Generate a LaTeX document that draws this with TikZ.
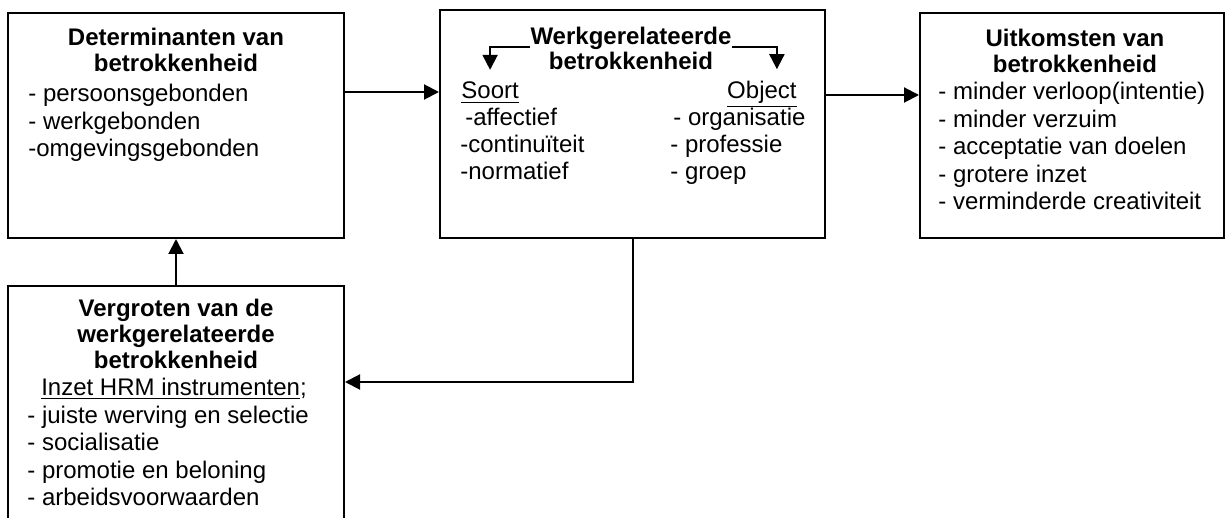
\documentclass[tikz,border=0pt]{standalone}
\usepackage{fontspec}
\setmainfont{Liberation Sans}
\usetikzlibrary{arrows.meta,positioning,calc}

\begin{document}
\begin{tikzpicture}[
    x={(0.5pt,0pt)}, y={(0pt,-0.5pt)},
    box/.style={draw, line width=1pt, inner sep=0pt},
    ttl/.style={font=\fontsize{12}{13}\selectfont\bfseries, align=center, inner sep=0pt, anchor=base},
    lst/.style={font=\fontsize{12}{13.75}\selectfont, align=left, inner sep=0pt, anchor=base west},
    arr/.style={-{Triangle[length=7.5pt, width=7.5pt]}, line width=1pt}
]
\fill[white] (0,0) rectangle (1226,518);
\useasboundingbox (0,0) rectangle (1226,518);
\clip (0,0) rectangle (1226,518);

% boxes
\node[box, minimum width=168pt, minimum height=112.5pt] (det) at (176,125.5) {};
\node[box, minimum width=192.5pt, minimum height=114pt] (werk) at (632.5,124) {};
\node[box, minimum width=152pt, minimum height=112.5pt] (uit) at (1072,125.5) {};
\node[box, minimum width=168pt, minimum height=136.75pt] (verg) at (176,423.25) {};

% determinanten (base = last line)
\node[ttl] (detT) at (176,72) {Determinanten van\\betrokkenheid};
\node[lst] (detL) at (28,157) {- persoonsgebonden\\- werkgebonden\\-omgevingsgebonden};

% werkgerelateerde betrokkenheid
\node[ttl] (wt1) at (631,45) {Werkgerelateerde};
\node[ttl] (wt2) at (631,70) {betrokkenheid};
\node[lst] (soort) at (461,99) {\underline{Soort}};
\node[lst, font=\fontsize{12}{13.4}\selectfont] (soortL) at (460,179.6) {\hspace{2.5pt}-affectief\\-continuïteit\\-normatief};
\node[lst, anchor=base east] (obj) at (797,99) {\underline{Object}};
\node[lst, font=\fontsize{12}{13.4}\selectfont] (objL) at (670,179.6) {\hspace{1.5pt}- organisatie\\- professie\\- groep};

% uitkomsten
\node[ttl] (uitT) at (1075,72.5) {Uitkomsten van\\betrokkenheid};
\node[lst] (uitL) at (938,210) {- minder verloop(intentie)\\- minder verzuim\\- acceptatie van doelen\\- grotere inzet\\- verminderde creativiteit};

% vergroten
\node[ttl] (vergT) at (176,368) {Vergroten van de\\werkgerelateerde\\betrokkenheid};
\node[lst, anchor=base] (hrm) at (174,395) {\underline{Inzet HRM instrumenten};};
\node[lst] (vergL) at (27,505.5) {- juiste werving en selectie\\- socialisatie\\- promotie en beloning\\- arbeidsvoorwaarden};

% connectors
\coordinate (r1) at (0,92);
\coordinate (r2) at (0,95);
\coordinate (r3) at (0,382);
\draw[arr] (det.east |- r1) -- (werk.west |- r1);
\draw[arr] (werk.east |- r2) -- (uit.west |- r2);
\draw[arr] (verg.north) -- (det.south);
\draw[arr] (werk.south) |- (verg.east |- r3);
\draw[arr] ([yshift=-1pt]wt1.base west) -| ([yshift=6pt]soort.north);
\draw[arr] ([yshift=-1pt]wt1.base east) -| ([xshift=7.5pt, yshift=6pt]obj.north);
\end{tikzpicture}
\end{document}
